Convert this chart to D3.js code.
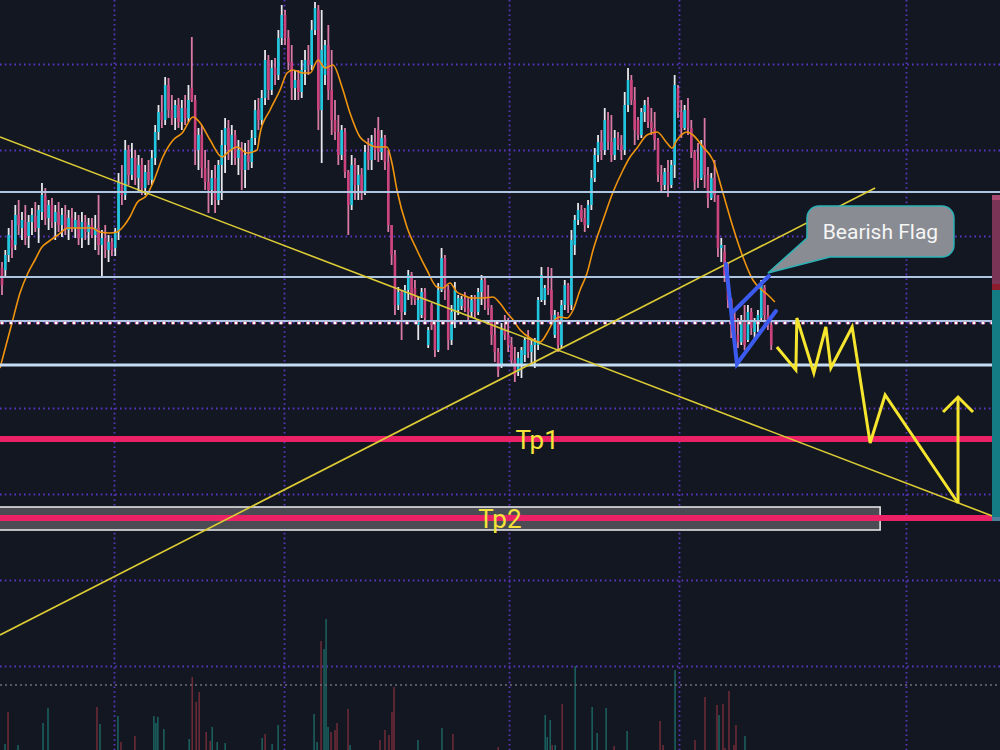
<!DOCTYPE html>
<html><head><meta charset="utf-8">
<script src="https://cdn.jsdelivr.net/npm/d3@7"></script>
<style>html,body{margin:0;padding:0;background:#131722;overflow:hidden}svg{display:block}</style>
</head><body><svg id="c" width="1000" height="750"></svg>
<script>
// ---------- DATA (price units, candle index as time) ----------
const opens=[732,730,745,760,755,785,772,778,764,778,784,772,788,804,782,795,778,788,775,785,770,782,772,780,762,778,768,775,765,772,755,762,750,758,752,768,818,805,850,825,842,822,835,812,828,820,842,868,888,880,915,890,882,895,878,892,882,912,900,850,865,832,818,810,822,800,835,855,872,850,865,842,850,830,845,838,862,890,880,902,940,910,932,925,962,985,962,938,912,920,908,930,940,935,970,990,890,925,955,910,880,868,845,868,828,795,835,815,825,808,848,840,858,870,848,862,838,775,745,695,708,688,710,725,712,675,685,708,655,695,675,650,710,742,710,660,688,690,694,701,692,688,700,688,708,720,702,692,665,648,635,670,665,655,640,628,635,645,660,648,655,655,700,700,712,710,665,685,655,695,715,695,755,780,790,782,775,795,822,845,858,850,880,858,845,862,855,850,895,920,900,880,865,888,895,878,872,860,825,815,828,815,835,912,888,872,890,872,848,840,822,855,825,802,822,805,752,748,725,700,682,665,658,680,660,688,668,678,682,712,685,675];
const highs=[738,750,772,780,795,800,788,795,785,792,798,795,817,812,800,802,795,798,792,795,790,792,788,785,788,785,782,782,785,805,770,775,765,762,772,827,835,860,855,857,850,845,842,835,840,850,875,895,905,923,922,905,900,902,900,905,915,963,905,872,875,850,840,830,835,840,870,882,880,875,870,860,858,857,860,870,900,902,910,950,945,940,942,970,995,990,970,955,930,930,940,950,955,980,998,995,990,960,975,950,900,885,875,872,830,845,842,835,832,855,862,865,872,883,870,865,850,775,750,713,710,715,730,728,720,703,712,712,673,697,680,717,752,745,715,695,718,705,704,708,702,705,705,712,725,722,715,695,678,652,677,685,682,663,653,648,653,663,670,660,662,703,733,715,733,732,690,688,700,720,717,770,785,797,795,792,800,830,852,865,870,892,888,885,870,868,865,908,932,925,913,883,892,900,903,892,888,862,835,832,840,840,925,915,900,895,902,880,850,857,860,882,833,827,840,805,762,755,738,702,688,682,685,695,695,692,682,690,720,715,695,680];
const lows=[705,722,738,742,750,765,760,755,752,765,768,757,780,775,770,772,760,768,763,765,760,768,762,755,752,760,755,762,750,745,723,742,738,744,744,760,795,800,815,820,815,807,805,805,815,815,835,860,872,875,882,875,870,872,870,875,878,898,835,830,822,810,787,795,787,795,800,827,840,835,835,825,810,812,830,832,855,870,875,895,900,905,915,920,955,955,930,900,900,900,902,915,925,930,965,870,837,915,900,865,860,835,840,822,765,790,800,800,800,805,830,830,840,838,840,830,768,735,685,690,660,685,700,695,695,660,682,677,652,670,643,648,708,700,650,655,672,685,690,688,680,682,682,685,695,690,685,655,638,623,632,660,648,635,618,624,622,638,642,634,632,650,698,695,705,680,662,648,652,690,687,690,745,775,778,768,772,790,818,838,840,845,850,838,840,850,840,845,888,895,855,860,862,878,872,865,850,818,808,810,803,812,822,882,862,870,865,842,810,812,820,812,792,800,798,743,738,718,692,662,660,652,655,650,658,665,662,668,680,678,670,650];
const closes=[715,745,765,752,785,775,780,762,778,785,772,790,805,782,795,778,788,775,785,770,782,772,780,762,778,768,775,765,772,755,762,750,758,750,768,818,805,850,825,842,822,835,812,828,820,842,868,888,880,915,890,882,895,878,892,882,900,900,850,865,832,818,810,822,800,835,855,872,850,865,842,850,830,845,838,862,890,880,902,940,910,932,925,962,985,962,938,912,920,908,930,940,935,970,992,890,950,955,910,880,868,845,870,828,795,835,815,825,808,848,840,858,850,848,862,838,775,745,695,708,688,710,725,702,700,700,708,682,670,675,650,710,742,710,660,688,710,702,701,692,688,700,688,708,720,702,692,665,648,630,670,665,655,640,625,642,650,660,648,655,658,700,725,712,710,685,685,655,695,715,695,760,780,790,782,775,795,822,845,858,850,880,858,845,862,855,850,895,920,900,870,865,888,895,878,872,860,825,815,828,815,835,915,888,872,890,872,848,818,822,855,825,802,822,805,752,755,725,700,670,665,658,680,655,688,672,678,685,715,685,675,655];

// Moving average: [candle index, value]
const maIdx=[-0.6,3.0,5.4,7.8,9.9,12.0,13.8,16.8,19.8,23.4,27.0,29.4,32.4,34.5,36.3,38.4,40.5,43.5,45.3,48.3,51.4,54.1,57.4,59.5,62.5,66.1,67.6,70.6,73.6,76.6,77.5,80.5,83.5,85.6,87.4,90.4,92.5,94.9,97.0,99.4,102.1,104.5,107.5,109.6,112.6,115.6,117.1,118.6,121.6,124.6,127.6,130.6,132.4,134.5,136.6,138.4,141.4,144.4,147.4,149.5,151.7,153.5,155.6,158.6,161.6,163.7,165.5,167.5,169.7,171.5,173.6,175.7,177.5,180.5,183.5,186.5,188.6,190.7,193.7,196.7,199.7,201.2,202.7,205.7,207.5,210.5,213.5,216.5,219.5,222.5,225.5,228.2,230.0,232.1];
const maVal=[632,677,707,727,740,753,758,765,772,772,772,768,767,768,773,783,797,805,817,843,860,867,883,877,860,843,847,853,847,850,867,890,910,927,930,927,927,940,932,935,913,887,863,857,853,853,837,810,773,750,730,713,712,717,708,705,702,702,703,697,687,680,670,662,658,667,678,683,682,690,710,727,750,780,808,830,843,852,865,868,857,852,860,868,865,853,840,807,773,743,720,710,705,698];

// Volume (candle index, volume, direction)
const volIdx=[0.9,1.8,4.8,12.3,13.8,28.5,29.4,34.8,35.7,39.9,45.6,46.2,46.8,48.6,56.2,57.1,58.3,59.2,61.3,62.5,63.1,64.6,67.0,78.1,79.0,81.1,82.9,93.7,94.6,95.8,96.7,97.3,97.9,98.8,100.0,100.6,103.9,104.5,113.5,115.0,116.2,117.1,117.7,124.9,132.1,135.4,149.0,163.1,163.7,164.6,165.2,166.1,168.2,172.1,177.2,178.7,181.4,183.8,187.7,197.6,198.5,202.1,208.1,211.1,214.7,215.3,216.5,217.1,218.3,219.8,220.4,223.1];
const volVal=[6,38,5,27,42,43,26,34,8,14,34,27,33,21,11,73,48,58,18,9,23,8,7,12,16,6,25,36,8,109,101,131,23,18,20,27,41,5,10,20,15,38,63,10,22,16,3,35,13,30,5,5,46,84,43,17,42,4,19,29,5,80,10,53,45,35,46,2,59,5,25,14];
const volDir=['u','d','u','u','u','d','u','u','d','d','u','u','u','u','u','d','d','d','d','d','u','u','u','u','d','u','u','u','u','d','u','u','u','d','d','d','d','u','d','d','d','d','d','u','u','d','d','u','u','u','d','u','d','u','u','u','u','d','u','d','d','u','d','d','d','u','d','d','d','d','d','u'];
const volMA=65;

// Grid ticks
const timeTicks=[33.6,84.7,152.3,203.3,271.5];
const priceTicks=[936,850,764,678,592,506,420,334];

// Horizontal levels
const levels=[808,723,679,635];
const levelWidths=[2,2,2,3];
const lastPrice=677;
const tp1=561, tp2=482;
const tp2Box=[493,470];
const tpLabels=[{t:'Tp1',i:160.7,v:561},{t:'Tp2',i:149.5,v:482}];

// Trendlines [i, v]
const trendDown=[[-0.6,863],[298.2,483]];
const trendUp=[[-0.6,365],[262.2,812]];

// Bearish flag drawing
const flagPole=[[217.4,736],[220.7,636],[232.4,689]];
const flagTop=[[219.5,688],[230.3,724]];
const flagNote={text:'Bearish Flag',i:263.8,v:768.5,tipI:230,tipV:727};

// Projected path
const zigzag=[[232.7,653],[238.4,630],[238.7,682],[243.8,627],[247.4,673],[248.9,632],[255.3,673],[260.7,557],[265.2,605],[287.1,497]];
const arrowUp=[[287.1,497],[287.1,603]];
const arrowHead=[[282.6,588],[287.1,603],[291.6,588]];

// Right position strip
const stripLevels={top:805,mid:716,red:710,bottom:483};

// ---------- DRAW ----------
const svg=d3.select('#c');
const W=1000,H=750;
const x=d3.scaleLinear().domain([0,300]).range([2,1001]);
const y=d3.scaleLinear().domain([250,1000]).range([750,0]);
const vy=d3.scaleLinear().domain([0,300]).range([750,450]);

svg.append('rect').attr('width',W).attr('height',H).attr('fill','#131722');

// grid
const g=svg.append('g');
g.selectAll('.vg').data(timeTicks).join('line')
 .attr('x1',d=>Math.round(x(d))+0.5).attr('x2',d=>Math.round(x(d))+0.5).attr('y1',0).attr('y2',H)
 .attr('stroke','#5a36c0').attr('stroke-width',1.8).attr('stroke-dasharray','1.6,3.2');
g.selectAll('.hg').data(priceTicks).join('line')
 .attr('x1',0).attr('x2',W).attr('y1',d=>Math.round(y(d))+0.5).attr('y2',d=>Math.round(y(d))+0.5)
 .attr('stroke','#5a36c0').attr('stroke-width',1.8).attr('stroke-dasharray','1.6,3.2');

// volume
const vol=volIdx.map((d,k)=>({i:d,v:volVal[k],up:volDir[k]==='u'}));
svg.append('g').selectAll('rect').data(vol).join('rect')
 .attr('x',d=>x(d.i)-0.6).attr('width',1.3)
 .attr('y',d=>vy(d.v)).attr('height',d=>vy(0)-vy(d.v))
 .attr('fill',d=>d.up?'#1d6f6b':'#7e2f3a');
svg.append('line').attr('x1',0).attr('x2',W).attr('y1',vy(volMA)).attr('y2',vy(volMA))
 .attr('stroke','#6e6e78').attr('stroke-width',1.5).attr('stroke-dasharray','2,3');

// candles
const candles=opens.map((o,i)=>({i,o,h:highs[i],l:lows[i],c:closes[i]}));
const cg=svg.append('g');
cg.selectAll('.wick').data(candles).join('line')
 .attr('x1',d=>x(d.i)).attr('x2',d=>x(d.i)).attr('y1',d=>y(d.h)).attr('y2',d=>y(d.l))
 .attr('stroke',d=>d.c>=d.o?'#e8e8ec':'#d97aa3').attr('stroke-width',1.8);
cg.selectAll('.body').data(candles).join('rect')
 .attr('x',d=>x(d.i)-1.3).attr('width',2.6)
 .attr('y',d=>y(Math.max(d.o,d.c))).attr('height',d=>Math.max(1,Math.abs(y(d.o)-y(d.c))))
 .attr('fill',d=>d.c>=d.o?'#1ec6df':'#cc437e');

// MA
const ma=maIdx.map((d,k)=>[d,maVal[k]]);
svg.append('path').datum(ma)
 .attr('d',d3.line().x(d=>x(d[0])).y(d=>y(d[1])).curve(d3.curveMonotoneX))
 .attr('fill','none').attr('stroke','#f0940e').attr('stroke-width',1.6);

// Tp2 box
svg.append('rect').attr('x',-2).attr('width',x(263.7)+2)
 .attr('y',y(tp2Box[0])).attr('height',y(tp2Box[1])-y(tp2Box[0]))
 .attr('fill','#4a4b53').attr('stroke','#eeeeee').attr('stroke-width',1.5);

// Levels
svg.append('g').selectAll('line').data(levels).join('line')
 .attr('x1',0).attr('x2',W).attr('y1',d=>y(d)).attr('y2',d=>y(d))
 .attr('stroke',(d,k)=>k===3?'#c4ddf5':'#aec6e2').attr('stroke-width',(d,k)=>levelWidths[k]);

// last price line
svg.append('line').attr('x1',0).attr('x2',W).attr('y1',y(lastPrice)).attr('y2',y(lastPrice))
 .attr('stroke','#c75080').attr('stroke-width',2.6).attr('stroke-dasharray','4,5');
svg.append('line').attr('x1',0).attr('x2',W).attr('y1',y(lastPrice)).attr('y2',y(lastPrice))
 .attr('stroke','#ffffff').attr('stroke-width',2.4).attr('stroke-dasharray','2.4,6.6').attr('stroke-dashoffset',-0.8);

// Tp lines
svg.append('g').selectAll('line').data([tp1,tp2]).join('line')
 .attr('x1',0).attr('x2',W).attr('y1',d=>y(d)).attr('y2',d=>y(d))
 .attr('stroke','#eb2166').attr('stroke-width',6);

// Trendlines
const ln=d3.line().x(d=>x(d[0])).y(d=>y(d[1]));
[trendDown,trendUp].forEach(t=>svg.append('path').attr('d',ln(t))
 .attr('fill','none').attr('stroke','#dccb35').attr('stroke-width',1.6));

// Flag
[flagPole,flagTop].forEach(t=>svg.append('path').attr('d',ln(t))
 .attr('fill','none').attr('stroke','#3b5bf0').attr('stroke-width',4).attr('stroke-linejoin','miter').attr('stroke-linecap','round'));

// zigzag + arrow
svg.append('path').attr('d',ln(zigzag)).attr('fill','none').attr('stroke','#f6e52f').attr('stroke-width',3).attr('stroke-linejoin','miter');
svg.append('path').attr('d',ln(arrowUp)).attr('fill','none').attr('stroke','#f6e52f').attr('stroke-width',3);
svg.append('path').attr('d',ln(arrowHead)).attr('fill','none').attr('stroke','#f6e52f').attr('stroke-width',3);

// Tp labels
svg.append('g').selectAll('text').data(tpLabels).join('text')
 .attr('x',d=>x(d.i)).attr('y',d=>y(d.v)+9.5).attr('text-anchor','middle')
 .attr('font-family','Roboto, "Noto Sans", sans-serif').attr('font-size',26)
 .attr('fill','#f4e43a').text(d=>d.t);

// Callout
{
 const cx=x(flagNote.i), cy=y(flagNote.v);
 const bw=147, bh=51, r=12;
 const L=cx-bw/2, R=cx+bw/2, T=cy-bh/2, B=cy+bh/2;
 const tx=x(flagNote.tipI), ty=y(flagNote.tipV);
 const p=`M${L+r},${T} H${R-r} A${r},${r} 0 0 1 ${R},${T+r} V${B-r} A${r},${r} 0 0 1 ${R-r},${B} H${L+23} L${tx},${ty} L${L},${B-19} V${T+r} A${r},${r} 0 0 1 ${L+r},${T} Z`;
 svg.append('path').attr('d',p).attr('fill','#898c93').attr('stroke','#2cb2b6').attr('stroke-width',1.5);
 svg.append('text').attr('x',cx).attr('y',cy+7.5).attr('text-anchor','middle')
  .attr('font-family','Roboto, "Noto Sans", sans-serif').attr('font-size',21).attr('fill','#f6f6f6').text(flagNote.text);
}

// Right strip
{
 const sx=992, sw=8;
 svg.append('rect').attr('x',sx).attr('width',sw).attr('y',y(stripLevels.top)).attr('height',y(stripLevels.mid)-y(stripLevels.top)).attr('fill','#7a3556');
 svg.append('rect').attr('x',sx).attr('width',sw).attr('y',y(stripLevels.top)).attr('height',5).attr('fill','#a94a70');
 svg.append('rect').attr('x',sx).attr('width',sw).attr('y',y(stripLevels.mid)).attr('height',y(stripLevels.red)-y(stripLevels.mid)).attr('fill','#8c1b2c');
 svg.append('rect').attr('x',sx).attr('width',sw).attr('y',y(stripLevels.red)).attr('height',y(stripLevels.bottom)-y(stripLevels.red)).attr('fill','#147b84');
 svg.append('rect').attr('x',sx).attr('width',sw).attr('y',y(stripLevels.bottom)).attr('height',4).attr('fill','#4f7e9c');
}
</script></body></html>
